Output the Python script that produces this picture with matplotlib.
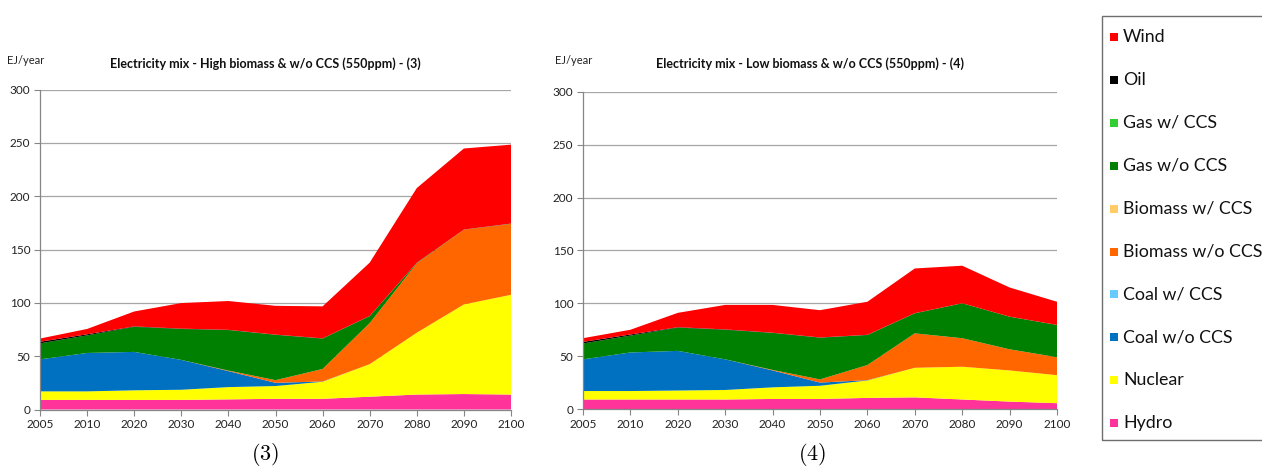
import numpy as np
import matplotlib
matplotlib.use("Agg")
import matplotlib.pyplot as plt
from matplotlib.patches import Rectangle

plt.rcParams['font.family'] = ['Lato', 'DejaVu Sans']
plt.rcParams['mathtext.fontset'] = 'cm'

years = ['2005', '2010', '2020', '2030', '2040', '2050', '2060', '2070', '2080', '2090', '2100']

# stacking order, bottom to top
sources = ['Hydro', 'Nuclear', 'Coal w/o CCS', 'Coal w/ CCS', 'Biomass w/o CCS',
           'Biomass w/ CCS', 'Gas w/o CCS', 'Gas w/ CCS', 'Oil', 'Wind']
colors = ['#FF3399', '#FFFF00', '#0070C0', '#66CCFF', '#FF6600',
          '#FFCC66', '#008000', '#33CC33', '#000000', '#FF0000']

zeros = [0] * 11

# (3) High biomass & w/o CCS, EJ/year
high_hydro = [9, 9, 9, 9, 9.5, 10, 10, 12, 14, 14.5, 14]
high_nuclear = [8, 8, 9, 9.5, 11.5, 12, 16, 30.5, 58, 84, 93.5]
high_coal_wo = [30, 36, 36, 28, 15, 3, 0.3, 0, 0, 0, 0]
high_coal_w = zeros
high_bio_wo = [0, 0, 0, 0, 0.5, 2.5, 11.7, 38.5, 65, 70, 66.5]
high_bio_w = zeros
high_gas_wo = [15, 16.5, 23.5, 29, 38, 42.5, 28.5, 6.5, 0.5, 0.1, 0.2]
high_gas_w = zeros
high_oil = [1.5, 1, 0.4, 0.3, 0.2, 0.2, 0.2, 0.2, 0.1, 0.1, 0.1]
high_wind = [3, 5, 14, 24, 27, 27, 30, 50, 70, 76, 74]

# (4) Low biomass & w/o CCS, EJ/year
low_hydro = [9, 9, 9, 9, 9.5, 9.5, 10.5, 11, 9, 7, 5.5]
low_nuclear = [8, 8, 8.5, 9, 11, 12.5, 16.5, 28, 31, 29.5, 26.5]
low_coal_wo = [30, 36.5, 37.5, 29, 16, 3, 0.3, 0, 0, 0, 0]
low_coal_w = zeros
low_bio_wo = [0, 0, 0, 0, 0.5, 3, 14.3, 32.6, 27, 20, 17]
low_bio_w = zeros
low_gas_wo = [15, 16, 22, 28, 35, 39.5, 28.4, 18.9, 33, 30.8, 30.5]
low_gas_w = zeros
low_oil = [1.5, 1, 0.4, 0.3, 0.2, 0.2, 0.2, 0.2, 0.1, 0.1, 0.1]
low_wind = [3.5, 4.5, 13.6, 23.2, 26.3, 25.8, 31.3, 42.3, 35.5, 27.6, 21.9]

high = [high_hydro, high_nuclear, high_coal_wo, high_coal_w, high_bio_wo,
        high_bio_w, high_gas_wo, high_gas_w, high_oil, high_wind]
low = [low_hydro, low_nuclear, low_coal_wo, low_coal_w, low_bio_wo,
       low_bio_w, low_gas_wo, low_gas_w, low_oil, low_wind]

W, H = 1262, 467
fig = plt.figure(figsize=(W / 100, H / 100), dpi=100)


def px(x0, y0, x1, y1):
    # pixel box -> figure fraction rect
    return [x0 / W, 1 - y1 / H, (x1 - x0) / W, (y1 - y0) / H]


def draw(rect, layers, title, caption, title_x, lab_x, cap_x):
    ax = fig.add_axes(rect)
    x = np.arange(len(years))
    ax.stackplot(x, *layers, colors=colors, linewidth=0, zorder=2)
    ax.set_xlim(0, len(years) - 1)
    ax.set_ylim(0, 300)
    ax.set_yticks(range(0, 301, 50))
    ax.set_xticks(x)
    ax.set_xticklabels(years)
    ax.grid(axis='y', color='#A6A6A6', linewidth=0.9, zorder=1)
    ax.set_axisbelow(True)
    for s in ('top', 'right'):
        ax.spines[s].set_visible(False)
    for s in ('left', 'bottom'):
        ax.spines[s].set_color('#868686')
        ax.spines[s].set_linewidth(0.9)
    ax.tick_params(colors='#868686', labelcolor='#222222', labelsize=8.5,
                   length=4, width=0.8, pad=3)
    fig.text(title_x / W, 1 - 64 / H, title, ha='center', va='center',
             fontsize=9, fontweight='bold', color='#111111')
    fig.text(lab_x / W, 1 - 61 / H, 'EJ/year', ha='left', va='center',
             fontsize=8, color='#222222')
    fig.text(cap_x / W, 1 - 455 / H, caption, ha='center', va='center',
             fontsize=16)
    return ax


draw(px(40, 89.5, 511, 409.5), high,
     'Electricity mix - High biomass & w/o CCS (550ppm) - (3)', r'$(3)$',
     265, 7, 265)
draw(px(583, 92, 1057, 409), low,
     'Electricity mix - Low biomass & w/o CCS (550ppm) - (4)', r'$(4)$',
     810, 555, 812)

# legend box, cut off at the right edge
fig.patches.append(Rectangle((1102 / W, 1 - 440 / H), 200 / W, 424.5 / H,
                             transform=fig.transFigure, fill=False,
                             edgecolor='#6E6E6E', linewidth=1.0))
top_y, step = 36.7, 42.96
for i, (name, c) in enumerate(zip(sources[::-1], colors[::-1])):
    yc = top_y + i * step
    fig.patches.append(Rectangle((1110 / W, 1 - (yc + 4) / H), 8 / W, 8 / H,
                                 transform=fig.transFigure, facecolor=c,
                                 edgecolor='none'))
    fig.text(1123 / W, 1 - yc / H, name, ha='left', va='center',
             fontsize=12.8, color='#111111')

fig.savefig('out.png', dpi=100)
